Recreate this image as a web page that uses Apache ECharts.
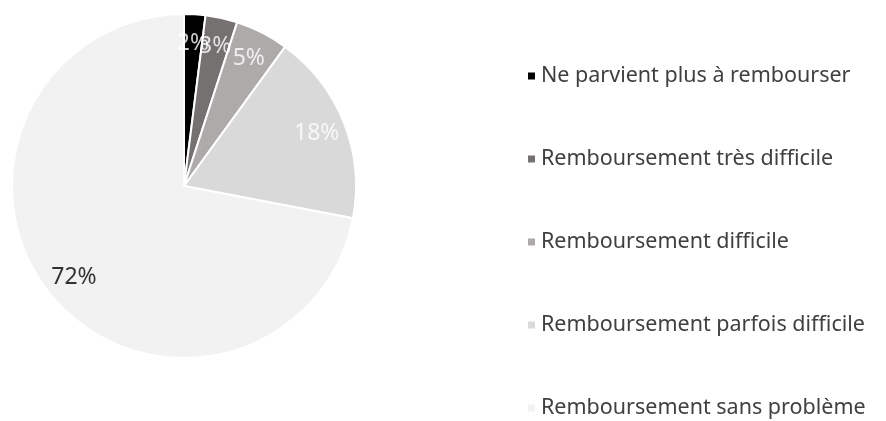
<!DOCTYPE html>
<html>
<head>
<meta charset="utf-8">
<script src="https://cdn.jsdelivr.net/npm/echarts@6/dist/echarts.min.js"></script>
<style>
  html, body { margin: 0; padding: 0; background: #fff; }
</style>
</head>
<body>
<div id="chart" style="width: 886px;height:421px;"></div>
<script>
// données
var categories = [
  'Ne parvient plus à rembourser',
  'Remboursement très difficile',
  'Remboursement difficile',
  'Remboursement parfois difficile',
  'Remboursement sans problème'
];
var values = [2, 3, 5, 18, 72];
var colors = ['#000000', '#767171', '#AEAAAA', '#D9D9D9', '#F2F2F2'];
var labelColors = ['#ffffff', '#ffffff', '#ffffff', '#ffffff', '#000000'];

var myChart = echarts.init(document.getElementById('chart'));

var total = 0;
for (var k = 0; k < values.length; k++) total += values[k];

var pieData = [];
var labelData = [];
var cum = 0;
for (var i = 0; i < categories.length; i++) {
  pieData.push({
    name: categories[i],
    value: values[i],
    itemStyle: { color: colors[i] }
  });
  // étiquette au milieu de la part, vers le bord (axe polaire)
  labelData.push({
    value: [0.83, (cum + values[i] / 2) / total * 100, values[i]],
    label: { color: labelColors[i] }
  });
  cum += values[i];
}

var option = {
  animation: false,
  polar: { center: [184, 186], radius: 172 },
  angleAxis: { type: 'value', min: 0, max: 100, startAngle: 90, clockwise: true, show: false },
  radiusAxis: { type: 'value', min: 0, max: 1, show: false },
  legend: {
    orient: 'vertical',
    left: 526,
    top: 65,
    height: 400,
    padding: 0,
    icon: 'rect',
    itemWidth: 9,
    itemHeight: 9,
    itemGap: 61,
    data: categories,
    textStyle: {
      fontFamily: 'Noto Sans',
      fontSize: 21.5,
      lineHeight: 22,
      color: '#404040'
    }
  },
  series: [
    {
      type: 'pie',
      center: [184, 186],
      radius: [0, 172],
      startAngle: 90,
      clockwise: true,
      silent: true,
      itemStyle: { borderColor: '#ffffff', borderWidth: 2 },
      label: { show: false },
      labelLine: { show: false },
      data: pieData
    },
    {
      type: 'scatter',
      coordinateSystem: 'polar',
      symbolSize: 0,
      silent: true,
      label: {
        show: true,
        position: 'inside',
        formatter: function (p) { return p.value[2] + '%'; },
        fontFamily: 'Noto Sans',
        fontSize: 23
      },
      data: labelData
    }
  ]
};
myChart.setOption(option);
</script>
</body>
</html>
